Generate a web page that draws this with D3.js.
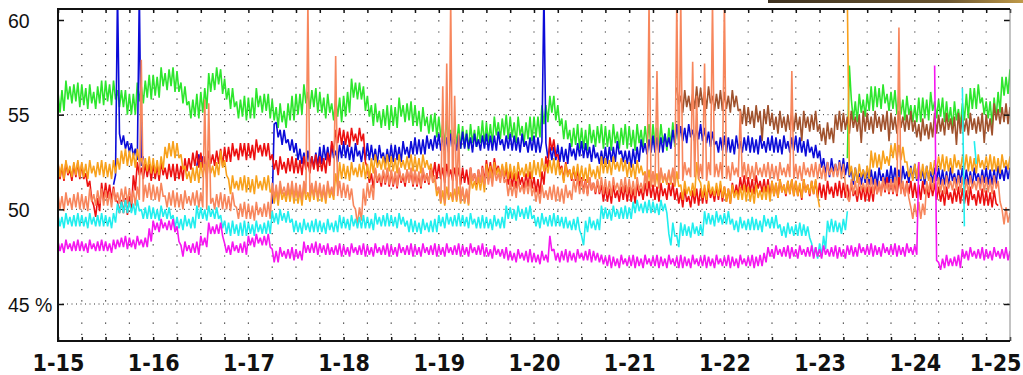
<!DOCTYPE html>
<html>
<head>
<meta charset="utf-8">
<script src="https://cdn.jsdelivr.net/npm/d3@7"></script>
<style>
  html, body { margin: 0; padding: 0; background: #fff; }
  svg { display: block; }
</style>
</head>
<body>
<svg id="chart" width="1023" height="375"></svg>
<script>
// Half-hourly readings (percent). Each series is a list of [startHour, values]
// segments; hour 0 is 1-15 00:00, hour 240 is 1-25 00:00, values are 30 min apart.
const STEP = 0.5;
const dayLabels = ["1-15","1-16","1-17","1-18","1-19","1-20","1-21","1-22","1-23","1-24","1-25"];
const yTicks = [45, 50, 55, 60];

const greenSeries = [
  [0, [56.2,55.1,56.3,55.2,56.8,55.8,56.5,55.6,56.6,55.7,56.7,55.4,56.6,55.5,56.4,55.3,56.6,55.6,56.2,55.3,56.5,55.6,56.8,55.5,
       56.8,55.7,56.6,55.5,56.8,55.8,56.3,55.4,56.3,55.4,56.3,55.0,56.1,55.0,56.1,55.0,56.7,55.7,56.5,55.6,56.8,55.9,57.1,55.8,
       57.1,56.0,57.0,55.9,57.5,56.5,57.2,56.3,57.4,56.5,57.5,56.2,57.3,56.2,56.7,55.6,56.5,55.5,55.7,54.8,55.8,54.9,56.1,54.8,
       56.2,55.1,56.4,55.3,57.2,56.2,57.2,56.3,57.5,56.6,57.4,56.1,56.9,55.8,56.4,55.3,56.4,55.4,55.7,54.8,55.8,54.9,56.0,54.7,
       55.9,54.8,55.9,54.8,56.4,55.4,56.0,55.1,56.1,55.2,56.1,54.8,55.8,54.7,55.4,54.3,55.6,54.6,55.2,54.3,55.6,54.7,56.0,54.7,
       56.1,55.0,56.1,55.0,56.6,55.6,56.2,55.3,56.3,55.4,56.4,55.1,56.2,55.1,55.9,54.8,56.1,55.1,55.6,54.7,55.8,54.9,55.9,54.6,
       56.0,54.9,56.2,55.1,56.9,55.9,56.7,55.8,56.7,55.8,56.5,55.2,56.0,54.9,55.5,54.4,55.6,54.6,55.2,54.3,55.3,54.4,55.5,54.2,
       55.5,54.4,55.4,54.3,55.9,54.9,55.5,54.6,55.6,54.7,55.7,54.4,55.5,54.4,55.2,54.1,55.4,54.4,54.9,54.0,55.0,54.1,55.1,53.8,
       54.9,53.8,54.5,53.4,54.7,53.7,54.2,53.3,54.3,53.4,54.5,53.2,54.4,53.3,54.2,53.1,54.5,53.5,54.2,53.3,54.4,53.5,54.7,53.4,
       54.6,53.5,54.5,53.4,54.9,53.9,54.6,53.7,54.8,53.9,55.0,53.7,54.9,53.8,54.6,53.5,54.9,53.9,54.4,53.5,54.6,53.7,54.9,53.6,
       54.9,53.8,54.9,53.8,55.5,54.5,55.5,54.6,56.0,55.1,56.0,54.7,55.5,54.4,54.8,53.7,54.7,53.7,54.2,53.3,54.3,53.4,54.5,53.2,
       54.3,53.2,54.2,53.1,54.5,53.5,54.2,53.3,54.4,53.5,54.5,53.2,54.4,53.3,54.2,53.1,54.5,53.5,54.1,53.2,54.3,53.4,54.5,53.2,
       54.4,53.3,54.2,53.1,54.5,53.5,54.2,53.3,54.4,53.5,54.5,53.2,54.5,53.4,54.3,53.2,54.5,53.5,54.0,53.1,54.3,53.4,54.6,53.3,
       54.5]],
  [199, [52.7,57.6,
         55.8,54.7,55.7,54.6,56.1,55.1,55.8,54.9,56.1,55.2,56.5,55.2,56.5,55.4,56.4,55.3,56.6,55.6,56.1,55.2,56.2,55.3,56.3,55.0,
         56.1,55.0,55.8,54.7,56.0,55.0,55.5,54.6,55.5,54.6,55.9,54.6,55.9,54.8,55.8,54.7,56.2,55.2,55.7,54.8,55.8,54.9,55.9,54.6,
         55.7,54.6,55.4,54.3,55.7,54.7,55.3,54.4,55.6,54.7,56.1,54.8,56.4,55.3,56.4,55.3,56.6,55.6,55.9,55.0,55.7,54.8,55.7,54.4,
         55.9,54.8,56.2,55.1,57.0,56.0,57.0,56.1,57.4]]
];

const brownSeries = [
  [156, [56.4,55.5,56.0,55.1,56.3,55.4,56.0,55.2,56.1,55.3,56.5,55.4,56.4,55.5,56.2,55.3,56.5,55.6,56.0,55.2,56.1,55.3,56.3,55.2,
         56.2,55.3,56.0,55.1,56.3,55.4,56.0,55.2,55.3,54.5,55.5,54.4,55.4,54.5,55.2,54.3,55.5,54.6,55.2,53.6,55.3,54.5,55.5,54.4,
         55.1,54.2,54.9,54.0,55.2,54.3,54.9,54.1,55.0,54.2,55.2,54.1,55.1,54.2,54.9,53.6,55.2,54.3,54.9,54.1,55.0,54.2,55.2,54.1,
         54.5,53.6,54.3,53.4,54.6,53.7,54.3,53.5,55.0,54.2,55.2,54.1,55.1,54.2,54.9,54.0,55.2,54.3,54.9,54.1,55.0,53.5,55.2,54.1,
         55.1,54.2,54.9,54.0,55.2,54.3,54.9,54.1,55.0,54.2,55.2,53.6,55.1,54.2,54.9,54.0,55.2,54.3,54.9,54.1,55.0,54.2,55.2,54.1,
         54.7,53.8,54.5,53.6,54.8,53.9,54.5,53.7,54.6,53.8,55.1,54.0,55.0,54.1,54.8,53.9,55.1,54.2,54.8,54.0,54.9,53.4,55.1,54.0,
         55.0,54.1,54.8,53.9,55.1,54.2,54.8,54.0,54.9,54.1,55.1,53.5,55.0,54.1,54.8,53.9,55.6,54.7,55.3,54.5,55.4,54.6,55.6,54.5,
         55.4]]
];

const blueSeries = [
  [14, [51.3,51.8,61.5,54.0,53.4,53.9,53.2,53.6,53.0,53.5,52.8,53.2,52.6,61.5,52.3,52.8]],
  [35, [52.3,52.9,52.2,52.8,52.1]],
  [54, [50.3,54.5,54.6,53.8,54.2,53.4,54.2,53.5,53.7,53.1,53.7,53.0,53.5,52.6,53.2,52.4,53.0,52.2,53.1,52.4,52.8,52.2,53.0,52.3,
        53.3,52.4,53.4,52.6,53.3,52.5,53.4,52.7,53.1,52.5,53.4,52.7,
        53.6,52.7,53.4,52.6,53.3,52.5,53.5,52.8,53.1,52.5,53.3,52.6,53.5,52.6,53.4,52.6,53.2,52.4,53.4,52.7,53.0,52.4,53.2,52.5,
        53.4,52.5,53.4,52.6,53.3,52.5,53.6,52.9,53.3,52.7,53.6,52.9,53.8,52.9,53.7,52.9,53.7,52.9,53.9,53.2,53.7,53.1,53.9,53.2,
        54.0,53.1,53.9,53.1,53.8,53.0,54.0,53.3,53.7,53.1,53.9,53.2,54.1,53.2,54.0,53.2,53.8,53.0,54.0,53.3,53.7,53.1,53.9,53.2,
        54.0,53.1,53.9,53.1,53.9,53.1,54.1,53.4,53.7,53.1,53.9,53.2,54.0,53.1,53.9,53.1,53.8,53.0,54.0,53.3,53.6,53.0,53.8,53.1,
        53.9,53.0,53.8,53.0,53.6,61.5,53.5,52.7,53.3,52.6,53.3,52.6,53.4,52.5,53.3,52.5,53.2,52.4,53.5,52.8,53.2,52.6,53.5,52.8,
        53.6,52.7,53.5,52.7,53.3,52.5,53.4,52.7,53.0,52.4,53.1,52.4,53.3,52.4,53.3,52.5,53.3,52.5,53.6,52.9,53.1,52.5,53.1,52.4,
        53.1,52.2,53.2,52.4,53.3,52.5,53.7,53.0,53.5,52.9,53.7,53.0,53.9,53.0,53.8,53.0,53.8,53.0,54.0,53.3,53.8,53.2,54.2,53.5,
        54.5,53.6,54.4,53.6,54.3,53.5,54.5,53.8,54.2,53.6,54.4,53.7,54.5,53.6,54.3,53.5,54.1,53.3,54.1,53.4,53.6,53.0,53.8,53.1,
        53.9,53.0,53.8,53.0,53.7,52.9,53.9,53.2,53.6,53.0,53.8,53.1,53.9,53.0,53.8,53.0,53.7,52.9,53.9,53.2,53.6,53.0,53.8,53.1,
        53.9,53.0,53.8,53.0,53.7,52.9,53.9,53.2,53.6,53.0,53.8,53.1,53.9,53.0,53.8,53.0,53.6,52.8,53.7,53.0,53.3,52.7,53.4,52.7,
        53.1,52.2,52.7,51.9,52.5,51.7,52.7,52.0,52.4,51.8,52.6,51.9,52.7,51.8,52.5,51.7,52.1,51.3,52.2,51.5,51.9,51.3,52.1,51.4,
        52.2,51.3,52.1,51.3,52.0,51.2,52.2,51.5,51.9,51.3,52.1,51.4,52.3,51.4,52.2,51.4,52.1,51.3,52.3,51.6,52.0,51.4,52.3,51.6,
        52.4,51.5,52.3,51.5,52.1,51.3,52.3,51.6,52.0,51.4,52.2,51.5,52.2,51.3,52.1,51.3,52.0,51.2,52.2,51.5,51.9,51.3,52.1,51.4,
        52.2,51.3,52.1,51.3,52.0,51.2,52.2,51.5,51.9,51.3,52.1,51.4,52.2,51.3,52.1,51.3,52.1,51.3,52.3,51.6,52.1,51.5,52.3,51.6,
        52.2]]
];

const redSeries = [
  [0, [52.4,51.6,52.3,51.5,52.5,51.8,52.1,51.5,52.4,51.7,52.5,51.6,52.4,51.6,51.9,51.2,51.5,50.5,50.2,49.6,50.6,49.9,51.4,50.5,
       51.4,50.6,51.3,50.5,51.2,50.5,50.4,49.8,50.5,49.8,50.6,49.7,50.7,49.9,51.8,51.0,52.5,51.8,52.2,51.6,52.4,51.7,52.4,51.5,
       52.4,51.6,52.3,51.5,52.5,51.8,52.2,51.6,52.4,51.7,52.4,51.5,52.4,51.6,52.3,51.5,52.7,52.0,52.7,52.1,53.0,52.3,53.1,52.2,
       53.0,52.2,52.8,52.0,53.1,52.4,52.9,52.3,53.1,52.4,53.2,52.3,53.3,52.5,53.3,52.5,53.5,52.8,53.2,52.6,53.5,52.8,53.5,52.6,
       53.5,52.7,53.4,52.6,53.7,53.0,53.4,52.8,53.5,52.8,53.5,52.6,52.9,52.1,52.6,51.8,52.8,52.1,52.5,51.9,52.7,52.0,52.8,51.9,
       52.7,51.9,52.6,51.8,52.8,52.1,52.5,51.9,52.8,52.1,52.9,52.0,52.8,52.0,52.7,51.9,53.0,52.3,53.6,53.0,54.2,53.5,54.3,53.4,
       54.2,53.4,54.1,53.3,54.3,53.6,54.0,53.4,54.3,53.6,54.0,52.5,52.2,51.4,51.9,51.1,52.1,51.4,51.8,51.2,52.0,51.3,52.1,51.2,
       52.0,51.2,51.9,51.1,52.1,51.4,51.8,51.2,52.1,51.4,52.1,51.2,52.0,51.2,51.9,51.1,52.1,51.4,51.9,51.3,52.4,51.7,52.5,51.6,
       52.4,51.6,52.2,51.4,52.4,51.7,52.1,51.5,52.2,51.5,52.2,51.3,52.2,51.4,52.1,51.3,52.2,51.5,51.9,51.3,52.1,51.4,52.3,51.4,
       52.6,51.8,52.5,51.7,52.7,52.0,52.3,51.7,52.3,51.6,52.2,51.3,52.0,51.2,51.9,51.1,52.0,51.3,51.7,51.1,51.9,51.2,52.0,51.1,
       51.7,50.9,51.6,50.8,52.0,51.3,52.8,52.2,53.8,53.1,53.7,52.8,52.9,52.1,52.3,51.5,52.5,51.8,52.1,51.5,52.2,51.5,52.1,51.2,
       51.7,50.9,51.6,50.8,51.7,51.0,51.4,50.8,51.5,50.8,51.3,50.4,51.2,50.4,51.1,50.3,51.3,50.6,51.0,50.4,51.2,50.5,51.3,50.4,
       51.2,50.4,51.1,50.3,51.4,50.7,51.1,50.5,51.4,50.7,51.5,50.6,51.3,50.5,51.2,50.4,51.4,50.7,51.1,50.5,51.4,50.7,51.4,50.5,
       51.1,50.3,50.9,50.1,51.1,50.4,50.7,50.1,51.0,50.3,51.1,50.2,51.1,50.3,51.1,50.3,51.3,50.6,51.0,50.4,51.2,50.5,51.3,50.4,
       51.2,50.4,51.1,50.3,51.4,50.7,51.3,50.7,51.7,51.0,51.8,50.9,51.7,50.9,51.6,50.8,51.8,51.1,51.5,50.9,51.6,50.9,51.6,50.7,
       51.5,50.7,51.4,50.6,51.6,50.9,51.3,50.7,51.5,50.8,51.6,50.7,51.5,50.7,51.3,50.5,51.6,50.9,51.3,50.7,51.5,50.8,51.5,50.6,
       51.4,50.6,51.3,50.5,51.5,50.8,51.2,50.6,51.4,50.7,51.5,50.6,51.4,50.6,51.3,50.5,51.4,50.7,51.0,50.4,51.2,50.5,51.3,50.4,
       51.2,50.4,51.2,50.4,51.5,50.8,51.4,50.8,51.6,50.9,51.7,50.8,51.6,50.8,51.5,50.7,51.7,51.0,51.3,50.7,51.5,50.8,51.5,50.6,
       51.4,50.6,51.3,50.5,51.5,50.8,51.2,50.6,51.4,50.7,51.4,50.5,51.2,50.4,51.0,50.2,51.2,50.5,50.9,50.3,51.1,50.4,51.2,50.3,
       51.1,50.3,51.0,50.2,51.2,50.5,50.8,50.2,51.0,50.3,51.1,50.2,51.0,50.2,50.9,50.1,51.0,50.3,50.2]]
];

const orangeSeries = [
  [0, [52.5,51.7,52.4,51.6,52.6,51.9,52.3,51.7,52.5,51.8,52.6,51.7,52.5,51.7,52.4,51.6,52.6,51.9,52.3,51.7,52.5,51.8,52.6,51.7,
       52.5,51.7,52.4,51.6,52.6,51.9,52.7,52.1,53.1,52.4,53.2,52.3,53.1,52.3,53.0,52.2,53.2,52.5,52.7,52.1,52.7,52.0,52.8,51.9,
       52.7,51.9,52.6,51.8,52.8,52.1,53.3,52.7,53.5,52.8,53.6,52.7,53.5,52.7,52.9,52.1,52.3,51.6,52.0,51.4,52.2,51.5,52.3,51.4,
       52.5,51.7,52.4,51.6,52.6,51.9,52.3,51.7,52.5,51.8,53.1,52.2,52.6,51.8,51.6,50.8,51.8,51.1,51.5,51.0,51.7,51.0,51.8,50.9,
       51.7,50.9,51.6,50.8,51.8,51.1,51.5,51.0,51.7,51.0,51.8,50.9,51.1,50.3,51.0,50.2,51.2,50.5,50.9,50.4,51.1,50.4,51.2,50.3,
       51.1,50.3,51.0,50.2,51.2,50.5,50.9,50.4,51.2,50.5,51.3,50.4,51.2,50.4,51.1,50.3,51.3,50.6,51.0,50.5,51.9,51.2,52.5,51.6,
       52.4,51.6,52.3,51.5,52.5,51.8,52.2,51.7,52.4,51.7,52.5,51.6,52.4,51.6,52.7,51.9,52.9,52.2,52.6,52.1,52.8,52.1,52.9,52.0,
       52.8,52.0,52.7,51.9,52.9,52.2,52.6,52.1,52.8,52.1,52.9,52.0,52.8,52.0,52.7,51.9,52.9,52.2,52.6,52.1,52.4,51.4,51.6,50.7,
       51.1,50.3,51.0,50.2,51.2,50.5,50.9,50.4,51.1,50.4,51.2,50.3,51.1,50.3,51.0,50.2,51.8,51.1,51.5,51.0,51.7,51.0,51.8,50.9,
       52.4,51.6,52.3,51.5,52.5,51.8,52.2,51.7,52.4,51.7,52.5,51.6,52.4,51.6,52.3,51.5,52.5,51.8,52.2,51.7,52.4,51.7,52.5,51.6,
       52.6,51.8,52.5,51.7,52.7,52.0,52.4,51.9,52.6,51.9,52.7,51.8,52.6,51.8,52.2,51.4,52.4,51.7,52.1,51.6,52.3,51.6,52.4,51.5,
       52.3,51.5,52.2,51.4,52.4,51.7,52.1,51.6,52.3,51.6,52.8,51.9,52.7,51.9,52.6,51.8,52.8,52.1,52.5,52.0,52.7,52.0,52.6,51.7,
       52.5,51.7,52.4,51.6,52.6,51.9,52.3,51.8,52.0,51.3,52.1,51.2,52.0,51.2,51.9,51.1,52.1,51.4,51.8,51.3,52.0,51.3,52.1,51.2,
       52.0,51.2,51.3,50.5,51.5,50.8,51.2,50.7,51.4,50.7,52.5,51.6,51.4,50.6,51.3,50.5,51.5,50.8,51.2,50.7,51.4,50.7,51.5,50.6,
       51.2,50.4,51.1,50.3,51.3,50.6,51.0,50.5,51.2,50.5,51.3,50.4,51.2,50.4,51.1,50.3,51.3,50.6,51.0,50.5,51.2,50.5,51.3,50.4,
       51.5,50.7,51.4,50.6,51.6,50.9,51.3,50.8,51.5,50.8,51.6,50.7,51.5,50.7,51.4,50.6,51.6,50.9,51.3,50.8,51.5,50.8,51.6,50.7,
       50.1]],
  [199, [61.0,51.8,
         52.3,51.5,52.2,51.4,52.4,51.7,52.1,51.6,52.3,51.6,53.1,52.2,53.0,52.2,52.9,52.1,53.1,52.4,52.8,52.3,53.4,52.7,53.5,52.6,
         53.4,52.6,53.3,52.5,52.5,51.7,52.2,51.5,52.4,51.6,52.5,51.6,52.4,51.6,52.3,51.5,52.5,51.8,52.6,52.0,52.8,52.1,52.9,52.0,
         52.8,52.0,52.7,51.9,52.9,52.2,52.6,52.1,52.8,52.1,52.9,52.0,52.8,52.0,52.7,51.9,52.9,52.2,52.6,52.1,52.8,52.1,52.9,52.0,
         52.8,52.0,52.7,51.9,52.9,52.2,52.6,52.1,52.8]]
];

const salmonSeries = [
  [0, [50.8,50.0,50.7,49.9,50.9,50.2,50.6,50.0,50.8,50.1,50.9,50.0,50.8,50.0,50.7,49.9,51.1,50.4,50.8,50.2,51.0,50.3,51.1,50.2,
       51.0,50.2,50.9,50.1,51.1,50.4,50.9,50.3,51.1,50.4,51.2,50.3,51.1,50.3,51.0,50.2,51.2,50.5,57.9,50.4,51.3,50.6,51.4,50.5,
       51.3,50.5,51.2,50.4,51.4,50.7,50.7,50.1,50.9,50.2,51.0,50.1,50.9,50.1,50.8,50.0,51.0,50.3,50.7,50.2,50.9,50.2,51.0,50.1,
       50.9,50.1,55.8,50.0,55.6,50.3,50.6,50.0,50.8,50.1,50.9,50.0,50.8,50.0,50.7,49.9,50.9,50.2,50.1,49.5,50.3,49.6,50.4,49.5,
       50.3,49.5,50.2,49.4,50.4,49.7,50.1,49.6,50.3,49.6,50.4,49.5,51.4,50.6,51.3,50.5,51.5,50.8,51.2,50.7,51.4,50.7,51.5,50.6,
       51.4,50.6,51.3,50.5,51.5,50.8,61.0,50.7,51.4,50.7,51.5,50.6,51.4,50.6,51.3,50.5,51.5,50.8,51.2,50.7,58.1,50.7,51.5,50.6,
       51.4,50.6,51.3,50.5,51.1,50.2,50.0,49.2,50.1,49.4,51.1,50.2,51.4,50.6,51.3,50.5,52.2,51.5,51.9,51.4,52.1,51.4,52.2,51.3,
       52.1,51.3,52.0,51.2,52.2,51.5,51.9,51.4,52.1,51.4,52.2,51.3,52.1,51.3,52.0,51.2,52.2,51.5,51.9,51.4,52.1,51.4,51.8,51.0,
       51.2,50.4,56.5,50.3,57.7,50.6,61.0,50.5,56.0,50.5,54.0,50.4,51.2,50.4,51.1,50.3,52.2,51.5,51.9,51.4,52.1,51.4,52.2,51.3,
       52.1,51.3,52.0,51.2,52.2,51.5,51.9,51.4,52.1,51.4,51.6,50.7,51.5,50.7,51.4,50.6,51.6,50.9,51.3,50.8,51.5,50.8,51.6,50.7,
       51.2,50.4,51.1,50.3,51.3,50.6,51.0,50.5,51.2,50.5,51.3,50.4,51.2,50.4,51.1,50.3,51.3,50.6,51.0,50.5,51.6,50.9,51.7,50.8,
       51.6,50.8,51.5,50.7,51.7,51.0,51.4,50.9,51.6,50.9,51.7,50.8,51.6,50.8,51.5,50.7,51.7,51.0,51.4,50.9,51.6,50.9,51.7,50.8,
       51.6,50.8,51.5,50.7,51.7,51.0,51.4,50.9,51.9,51.1,61.0,51.2,52.0,51.2,57.3,51.1,52.2,51.5,51.9,51.4,52.1,51.4,52.2,51.3,
       61.0,51.6,61.0,51.5,52.5,51.8,52.2,51.7,57.8,51.7,56.0,51.6,52.4,51.6,57.7,51.5,52.5,51.8,61.0,51.7,52.4,51.7,52.5,51.6,
       61.0,51.6,52.3,51.5,52.5,51.8,52.2,51.7,55.2,51.7,52.5,51.6,52.4,51.6,52.3,51.5,52.5,51.8,52.2,51.7,52.4,51.7,52.5,51.6,
       52.4,51.6,52.3,51.5,52.5,51.8,52.2,51.7,52.4,51.7,57.3,51.6,52.4,51.6,52.3,51.5,52.5,51.8,52.2,51.7,52.4,51.7,52.5,51.6,
       52.4,51.6,52.3,51.5,52.5,51.8,52.2,51.7,52.4,51.7,52.5,51.6,52.4,51.3,50.6,50.4,51.6,50.8,51.5,50.7,51.7,51.0,51.4,50.9,
       51.6,50.9,51.7,50.8,51.6,50.8,51.5,50.7,51.7,51.0,51.4,50.9,51.6,50.9,51.7,50.8,59.6,50.8,51.5,50.7,51.4,50.6,50.1,49.5,
       50.3,49.6,50.4,49.5,50.3,49.7,51.5,50.9,51.7,51.0,51.8,50.9,51.7,50.9,51.6,50.8,51.8,51.1,51.5,51.0,51.7,51.0,51.8,50.9,
       51.7,50.9,51.6,50.8,51.8,51.1,51.5,51.0,51.7,51.0,51.8,50.9,51.7,50.9,51.6,50.8,51.8,51.1,51.5,50.4,50.0,49.2,50.1,49.3,
       49.8]]
];

const cyanSeries = [
  [0, [49.7,49.1,49.6,49.0,49.8,49.2,49.6,49.1,49.7,49.1,49.8,49.1,49.7,49.1,49.6,49.0,49.8,49.2,49.6,49.1,49.7,49.1,49.8,49.1,
       49.7,49.1,49.6,49.0,49.8,49.3,50.3,49.8,50.4,49.8,50.5,49.8,50.4,49.8,50.3,49.7,50.5,49.9,50.0,49.5,50.1,49.5,50.2,49.5,
       50.1,49.5,50.0,49.4,50.2,49.6,50.0,49.5,50.1,49.5,49.7,49.0,49.6,49.0,49.5,48.9,49.7,49.1,49.5,49.0,49.6,49.0,50.2,49.5,
       50.1,49.5,50.0,49.4,50.2,49.6,50.0,49.5,50.1,49.5,49.7,49.0,49.4,48.7,49.3,48.6,49.4,48.7,49.2,48.6,49.3,48.6,49.4,48.6,
       49.3,48.7,49.2,48.6,49.4,48.8,49.2,48.7,49.3,48.7,49.4,48.7,49.9,49.3,49.8,49.2,50.0,49.4,49.8,49.3,49.9,49.3,49.5,48.8,
       49.4,48.8,49.3,48.7,49.5,48.9,49.3,48.8,49.4,48.8,49.5,48.8,49.4,48.8,49.3,48.7,49.5,48.9,49.3,48.8,49.4,48.8,49.7,49.0,
       49.6,49.0,49.5,48.9,49.7,49.1,49.5,49.0,49.6,49.0,49.7,49.0,49.6,49.0,49.5,48.9,49.8,49.2,49.6,49.1,49.7,49.1,49.8,49.1,
       49.7,49.1,49.6,49.0,49.8,49.2,49.6,49.1,49.4,48.8,49.5,48.8,49.4,48.8,49.3,48.7,49.5,48.9,49.3,48.8,49.4,48.8,49.5,48.8,
       49.7,49.1,49.6,49.0,49.8,49.2,49.6,49.1,49.7,49.1,49.8,49.1,49.7,49.1,49.6,49.0,49.8,49.2,49.5,49.0,49.6,49.0,49.7,49.0,
       49.6,49.0,49.5,48.9,49.7,49.1,49.5,49.0,49.6,49.0,50.2,49.5,50.1,49.5,50.0,49.4,50.2,49.6,50.0,49.5,50.1,49.5,50.2,49.5,
       49.7,49.1,49.6,49.0,49.8,49.2,49.6,49.1,49.7,49.1,49.8,49.1,49.7,49.1,49.6,49.0,49.6,49.0,49.4,48.9,49.5,48.9,49.6,48.9,
       48.6,48.1,49.4,48.8,49.6,49.0,49.4,48.9,49.5,48.9,50.2,49.5,50.1,49.5,50.0,49.4,50.2,49.6,50.0,49.5,50.1,49.5,50.2,49.5,
       50.1,49.5,50.4,49.8,50.5,49.9,50.3,49.8,50.4,49.8,50.5,49.8,50.4,49.8,50.3,49.7,50.5,49.9,50.3,49.8,48.7,48.1,49.3,48.6,
       48.6,48.0,49.3,48.6,49.2,48.6,49.1,48.5,49.3,48.7,49.1,48.6,49.2,48.6,49.9,49.2,49.8,49.2,49.7,49.1,49.9,49.3,49.7,49.2,
       49.8,49.2,49.9,49.2,49.5,48.9,49.4,48.8,49.6,49.0,49.4,48.9,49.5,48.9,49.6,48.9,49.5,48.9,49.4,48.8,49.7,49.1,49.5,49.0,
       49.6,49.0,49.7,49.0,49.2,48.6,49.1,48.5,49.3,48.7,49.1,48.6,49.2,48.6,49.3,48.6,49.2,48.6,49.1,48.5,48.2,47.5,48.0,47.4,
       48.2,47.5,48.6,47.9,49.4,48.8,49.5,48.8,49.4,48.8,49.3,48.7,49.5,48.9,49.9]],
  [228, [56.4,49.1]],
  [231, [53.6,52.4]]
];

const magentaSeries = [
  [0, [48.3,47.8,48.2,47.7,48.4,47.9,48.2,47.8,48.3,47.8,48.4,47.8,48.3,47.8,48.2,47.7,48.4,47.9,48.2,47.8,48.3,47.8,48.4,47.8,
       48.3,47.8,48.2,47.7,48.4,47.9,48.4,48.0,48.5,48.0,48.6,47.9,48.5,48.0,48.4,47.9,48.6,48.1,48.4,48.0,48.5,48.0,49.0,48.3,
       49.4,48.9,49.3,48.8,49.5,49.0,49.3,48.9,49.4,48.9,49.5,48.8,49.1,48.3,48.1,47.5,48.3,47.8,48.1,47.7,48.2,47.7,48.3,47.6,
       48.6,48.1,48.5,48.0,49.3,48.7,49.1,48.7,49.2,48.7,49.3,48.6,48.2,47.7,48.1,47.6,48.3,47.8,48.1,47.7,48.2,47.7,48.3,47.6,
       48.6,48.1,48.5,48.0,48.7,48.2,48.5,48.1,48.6,48.1,48.7,48.0,47.9,47.2,47.8,47.2,48.0,47.5,47.8,47.4,47.9,47.4,48.0,47.3,
       47.9,47.4,47.8,47.3,48.3,47.7,48.1,47.7,48.2,47.7,48.3,47.6,48.2,47.7,48.1,47.6,48.2,47.6,48.0,47.6,48.1,47.6,48.2,47.5,
       48.1,47.6,48.0,47.5,48.2,47.7,48.0,47.6,48.1,47.6,48.2,47.5,48.1,47.6,48.0,47.5,48.2,47.7,48.0,47.6,48.1,47.6,48.2,47.5,
       48.1,47.6,48.0,47.5,48.2,47.7,48.0,47.6,48.1,47.6,48.2,47.5,48.1,47.6,48.0,47.5,48.2,47.7,48.0,47.6,48.1,47.6,48.2,47.5,
       48.1,47.6,48.0,47.5,48.2,47.7,48.0,47.6,48.1,47.6,48.2,47.5,48.1,47.6,48.0,47.5,48.2,47.7,48.0,47.6,48.1,47.6,48.2,47.5,
       48.0,47.5,47.9,47.4,48.1,47.6,47.9,47.5,47.9,47.4,48.0,47.3,47.8,47.3,47.7,47.2,47.9,47.4,47.7,47.3,47.8,47.2,47.9,47.2,
       47.7,47.2,47.6,47.1,47.8,47.3,47.6,47.2,48.6,47.8,47.9,47.3,47.7,47.2,47.8,47.3,47.9,47.2,47.8,47.3,47.7,47.2,47.9,47.4,
       47.7,47.3,47.8,47.3,47.9,47.2,47.8,47.3,47.7,47.2,47.6,47.1,47.5,47.0,47.6,46.9,47.5,47.0,47.4,46.9,47.6,47.1,47.4,47.0,
       47.5,47.0,47.6,46.9,47.5,47.0,47.4,46.9,47.6,47.1,47.4,47.0,47.5,47.0,47.6,46.9,47.5,47.0,47.4,46.9,47.6,47.1,47.4,47.0,
       47.5,46.9,47.6,46.9,47.5,47.0,47.4,46.9,47.6,47.1,47.4,47.0,47.5,47.0,47.6,46.9,47.5,47.0,47.4,46.9,47.6,47.1,47.4,47.0,
       47.5,47.0,47.6,46.9,47.5,47.0,47.4,46.9,47.6,47.1,47.4,47.0,47.5,47.0,47.6,46.9,47.5,47.0,47.6,47.0,47.7,47.2,48.0,47.5,
       47.9,47.4,48.1,47.6,47.9,47.5,48.0,47.5,48.1,47.4,48.0,47.5,47.9,47.4,48.1,47.6,47.9,47.5,48.0,47.5,48.1,47.4,48.0,47.5,
       47.9,47.4,48.1,47.6,47.9,47.5,48.0,47.5,48.1,47.4,48.0,47.5,47.9,47.4,48.1,47.6,48.1,47.5,48.0,47.5,48.2,47.7,48.0,47.6,
       48.1,47.6,48.2,47.5,48.1,47.6,48.0,47.5,48.2,47.7,48.0,47.6,48.1,47.6,48.2,47.5,48.1,47.6,48.0,47.5,48.2,47.7,48.0,47.6,
       48.1,47.6,52.5]],
  [221, [57.6,47.3,47.2,46.8,47.4,46.9,47.6,47.0,47.4,47.0,47.5,47.0,47.6,46.9,47.9,47.4,47.8,47.3,48.0,47.5,47.8,47.4,
         47.9,47.4,48.0,47.3,47.9,47.4,47.8,47.3,48.0,47.5,47.8,47.4,47.9,47.4,48.0,47.3,47.8]]
];

// Drawing order: later series sit on top.
const layers = [
  { data: greenSeries,   color: "#2de62d" },
  { data: brownSeries,   color: "#a0522d" },
  { data: blueSeries,    color: "#0b0bd8" },
  { data: redSeries,     color: "#ec1010" },
  { data: orangeSeries,  color: "#f8a11c" },
  { data: salmonSeries,  color: "#f7865c" },
  { data: cyanSeries,    color: "#22eeee" },
  { data: magentaSeries, color: "#f516f0" }
];

const svg = d3.select("#chart");
const W = 1023, H = 375;
const plot = { left: 58, right: 1010, top: 9, bottom: 341 };

svg.append("rect").attr("width", W).attr("height", H).attr("fill", "#fff");

// thin dark-gold strip along the top edge
const defs = svg.append("defs");
const grad = defs.append("linearGradient").attr("id", "strip");
grad.append("stop").attr("offset", "0%").attr("stop-color", "#3e3220");
grad.append("stop").attr("offset", "70%").attr("stop-color", "#6a5530");
grad.append("stop").attr("offset", "100%").attr("stop-color", "#c09a48");
svg.append("rect").attr("x", 768).attr("y", 0).attr("width", W - 768).attr("height", 3)
  .attr("fill", "url(#strip)");

const x = d3.scaleLinear().domain([0, 240]).range([plot.left, plot.right]);
const y = d3.scaleLinear().domain([45, 60]).range([304, 20]);

defs.append("clipPath").attr("id", "plotClip")
  .append("rect").attr("x", plot.left).attr("y", plot.top)
  .attr("width", plot.right - plot.left).attr("height", plot.bottom - plot.top);

// dotted grid
const gridHours = d3.range(6, 240, 6);
svg.append("g").selectAll("line").data(gridHours).join("line")
  .attr("x1", d => x(d)).attr("x2", d => x(d))
  .attr("y1", plot.top).attr("y2", plot.bottom)
  .attr("stroke", "#333").attr("stroke-width", 1.2)
  .attr("stroke-dasharray", "1.2,10");
svg.append("g").selectAll("line").data([45, 50, 55]).join("line")
  .attr("x1", plot.left).attr("x2", plot.right)
  .attr("y1", d => y(d)).attr("y2", d => y(d))
  .attr("stroke", "#333").attr("stroke-width", 1)
  .attr("stroke-dasharray", "1,3.5");

// series
const line = d3.line().x(d => x(d[0])).y(d => y(d[1]));
const seriesG = svg.append("g").attr("clip-path", "url(#plotClip)");
layers.forEach(layer => {
  layer.data.forEach(([start, vals]) => {
    const pts = vals.map((v, i) => [start + i * STEP, v]);
    seriesG.append("path").datum(pts)
      .attr("d", line)
      .attr("fill", "none")
      .attr("stroke", layer.color)
      .attr("stroke-width", 1.6)
      .attr("stroke-linejoin", "miter")
      .attr("stroke-miterlimit", 2);
  });
});

// axes
const tickHours = d3.range(0, 241, 6);
const xAxis = d3.axisBottom(x).tickValues(tickHours).tickSizeInner(-4).tickSizeOuter(0)
  .tickFormat(d => d % 24 === 0 ? dayLabels[d / 24] : "");
const gx = svg.append("g").attr("transform", `translate(0,${plot.bottom})`).call(xAxis);
gx.select(".domain").remove();
gx.selectAll("line").attr("stroke", "#111").attr("stroke-width", 1.5);
gx.selectAll("text")
  .attr("y", 30)
  .attr("dy", 0)
  .attr("font-family", "'Liberation Sans Narrow', 'DejaVu Sans Condensed', sans-serif")
  .attr("font-weight", "bold")
  .attr("font-size", 23)
  .attr("fill", "#111");
gx.selectAll(".tick").filter(d => d === 240).select("text")
  .attr("text-anchor", "end").attr("x", 1021 - x(240));

const gTop = svg.append("g").attr("transform", `translate(0,${plot.top})`)
  .call(d3.axisTop(x).tickValues(tickHours).tickSizeInner(-4).tickSizeOuter(0).tickFormat(""));
gTop.select(".domain").remove();
gTop.selectAll("line").attr("stroke", "#111").attr("stroke-width", 1.5);

const yAxis = d3.axisLeft(y).tickValues(yTicks).tickSizeInner(-6).tickSizeOuter(0)
  .tickFormat(d => d === 45 ? "45 %" : String(d));
const gy = svg.append("g").attr("transform", `translate(${plot.left},0)`).call(yAxis);
gy.select(".domain").remove();
gy.selectAll("line").attr("stroke", "#111").attr("stroke-width", 1.5);
gy.selectAll("text")
  .attr("text-anchor", "start")
  .attr("x", 8 - plot.left)
  .attr("dy", "0.36em")
  .attr("font-family", "'Liberation Sans', Arial, sans-serif")
  .attr("font-size", 19.5)
  .attr("fill", "#111");

const gyR = svg.append("g").attr("transform", `translate(${plot.right},0)`)
  .call(d3.axisRight(y).tickValues(yTicks).tickSizeInner(-6).tickSizeOuter(0).tickFormat(""));
gyR.select(".domain").remove();
gyR.selectAll("line").attr("stroke", "#111").attr("stroke-width", 1.5);

// frame
svg.append("line").attr("x1", plot.right).attr("x2", plot.right)
  .attr("y1", plot.top).attr("y2", plot.bottom).attr("stroke", "#888").attr("stroke-width", 1);
svg.append("path")
  .attr("d", `M${plot.right},${plot.top}H${plot.left}V${plot.bottom}H${plot.right}`)
  .attr("fill", "none").attr("stroke", "#111").attr("stroke-width", 2);
</script>
</body>
</html>
